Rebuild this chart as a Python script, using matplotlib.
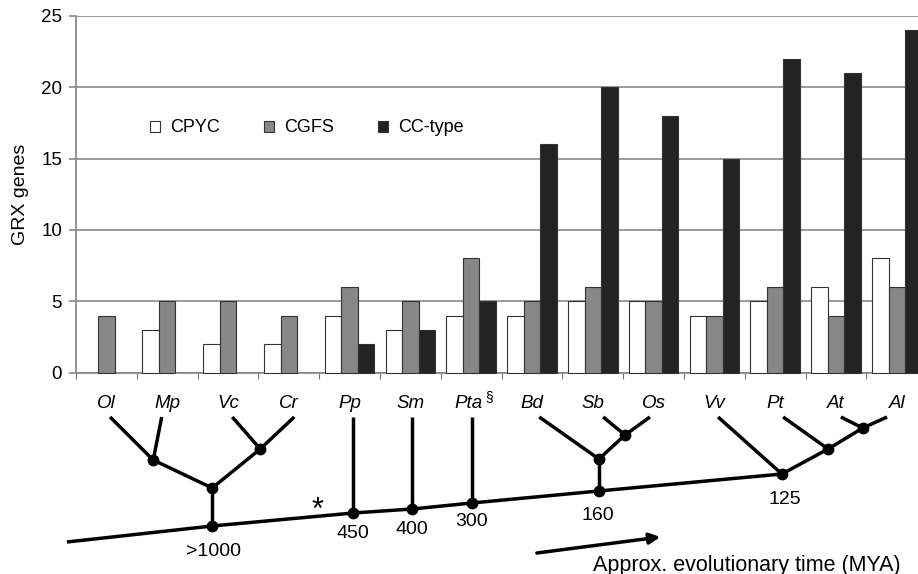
import matplotlib

matplotlib.use("Agg")
import matplotlib.pyplot as plt  # noqa: E402
import numpy as np  # noqa: E402
from matplotlib.patches import Patch  # noqa: E402

plt.rcParams["font.family"] = ["Liberation Sans", "DejaVu Sans"]

# ── data ─────────────────────────────────────────────────────────────────────
species = ["Ol", "Mp", "Vc", "Cr", "Pp", "Sm", "Pta", "Bd", "Sb", "Os",
           "Vv", "Pt", "At", "Al"]
cpyc = [0, 3, 2, 2, 4, 3, 4, 4, 5, 5, 4, 5, 6, 8]
cgfs = [4, 5, 5, 4, 6, 5, 8, 5, 6, 5, 4, 6, 4, 6]
cc_type = [0, 0, 0, 0, 2, 3, 5, 16, 20, 18, 15, 22, 21, 24]
series_names = ["CPYC", "CGFS", "CC-type"]
series_colors = ["white", "#878787", "#232323"]
y_ticks = [0, 5, 10, 15, 20, 25]

# tree drawn under the bars: x in category units, y = height above figure bottom
leaf_x = [0.06, 0.91, 2.07, 3.09, 4.06, 5.03, 6.01, 7.12, 8.17, 8.94,
          10.06, 11.13, 12.08, 12.84]
leaf_y = 157
inner_nodes = {
    "OlMp": (0.77, 114), "VcCr": (2.53, 125), "green": (1.74, 86),
    "n1000": (1.74, 48), "n450": (4.06, 61), "n400": (5.03, 65),
    "n300": (6.01, 71), "SbOs": (8.53, 139), "mono": (8.10, 115),
    "n160": (8.10, 83), "n125": (11.11, 100), "PtN": (11.87, 125),
    "AtAl": (12.44, 146), "start": (-0.65, 32),
}
tree_edges = [
    ("Ol", "OlMp"), ("Mp", "OlMp"), ("OlMp", "green"),
    ("Vc", "VcCr"), ("Cr", "VcCr"), ("VcCr", "green"), ("green", "n1000"),
    ("Pp", "n450"), ("Sm", "n400"), ("Pta", "n300"),
    ("Bd", "mono"), ("Sb", "SbOs"), ("Os", "SbOs"), ("SbOs", "mono"),
    ("mono", "n160"),
    ("Vv", "n125"), ("Pt", "PtN"), ("At", "AtAl"), ("Al", "AtAl"),
    ("AtAl", "PtN"), ("PtN", "n125"),
]
trunk = ["start", "n1000", "n450", "n400", "n300", "n160", "n125"]
time_labels = {"n1000": ">1000", "n450": "450", "n400": "400",
               "n300": "300", "n160": "160", "n125": "125"}

# ── figure ───────────────────────────────────────────────────────────────────
W, H = 918, 574
fig = plt.figure(figsize=(W / 100, H / 100), dpi=100)
left, width = 76 / W, 851.2 / W
bottom, height = (H - 372.7) / H, 357 / H
ax = fig.add_axes([left, bottom, width, height])

x = np.arange(len(species))
bw = 0.271
for k, (vals, name, col) in enumerate(zip([cpyc, cgfs, cc_type],
                                          series_names, series_colors)):
    vals = np.asarray(vals, dtype=float)
    keep = vals > 0  # zero counts draw nothing
    ax.bar(x[keep] + (k - 1) * bw, vals[keep], bw, color=col,
           edgecolor="#333333", linewidth=0.8, label=name, zorder=3,
           clip_on=False)

ax.set_xlim(-0.5, len(species) - 0.5)
ax.set_ylim(0, 25)
ax.set_yticks(y_ticks)
ax.yaxis.grid(True, color="#9a9a9a", linewidth=1.4, zorder=0)
ax.set_xticks(np.arange(-0.5, len(species), 1.0))
ax.set_xticklabels([])
ax.tick_params(axis="x", direction="out", length=4, color="#777777")
ax.tick_params(axis="y", direction="out", length=5, width=1.2,
               color="#8a8a8a", labelsize=13.5, pad=5)
for s in ["top", "right"]:
    ax.spines[s].set_visible(False)
for s in ["left", "bottom"]:
    ax.spines[s].set_color("#8a8a8a")
    ax.spines[s].set_linewidth(1.3)
ax.set_ylabel("GRX genes", fontsize=14, labelpad=9)

handles = [Patch(facecolor=c, edgecolor="#333333", linewidth=0.8)
           for c in series_colors]
fig.legend(handles, series_names, loc="center left",
           bbox_to_anchor=(150 / W, 1 - 128 / H), ncol=3, frameon=False,
           fontsize=13, handlelength=0.55, handleheight=0.55,
           handletextpad=0.55, columnspacing=2.45, borderpad=0,
           borderaxespad=0)

# ── tree ─────────────────────────────────────────────────────────────────────
tx = fig.add_axes([left, 0, width, bottom])
tx.set_xlim(-0.5, len(species) - 0.5)
tx.set_ylim(0, H - 372.7)
tx.axis("off")

pos = dict(inner_nodes)
for name, lx in zip(species, leaf_x):
    pos[name] = (lx, leaf_y)

for a, b in tree_edges:
    tx.plot([pos[a][0], pos[b][0]], [pos[a][1], pos[b][1]], color="black",
            lw=2.5, solid_capstyle="butt", clip_on=False)
tx.plot([pos[n][0] for n in trunk], [pos[n][1] for n in trunk],
        color="black", lw=2.5, solid_capstyle="butt", clip_on=False)
dots = [n for n in inner_nodes if n != "start"]
tx.plot([pos[n][0] for n in dots], [pos[n][1] for n in dots], "o",
        color="black", ms=7.5, clip_on=False)

for i, name in enumerate(species):
    if name == "Pta":
        tx.text(i - 0.04, 171, name, ha="center", va="center",
                fontsize=13.5, style="italic")
        tx.text(i + 0.29, 177, "§", ha="center", va="center", fontsize=10)
    else:
        tx.text(i, 171, name, ha="center", va="center", fontsize=13.5,
                style="italic")

offsets = {"n1000": (0.02, -26), "n450": (0.0, -20), "n400": (0.0, -21),
           "n300": (0.0, -19), "n160": (-0.02, -24), "n125": (0.05, -26)}
for n, lab in time_labels.items():
    dx, dy = offsets[n]
    tx.text(pos[n][0] + dx, pos[n][1] + dy, lab, ha="center", va="center",
            fontsize=14)

tx.text(3.48, 63, "*", ha="center", va="center", fontsize=22)
tx.annotate("", xy=(9.11, 37), xytext=(7.08, 21),
            arrowprops=dict(arrowstyle="-|>", lw=2.5, color="black",
                            mutation_scale=16, shrinkA=0, shrinkB=0))
tx.text(8.0, 9, "Approx. evolutionary time (MYA)", ha="left", va="center",
        fontsize=15.5)

fig.savefig("out.png", dpi=100)
plt.close(fig)
